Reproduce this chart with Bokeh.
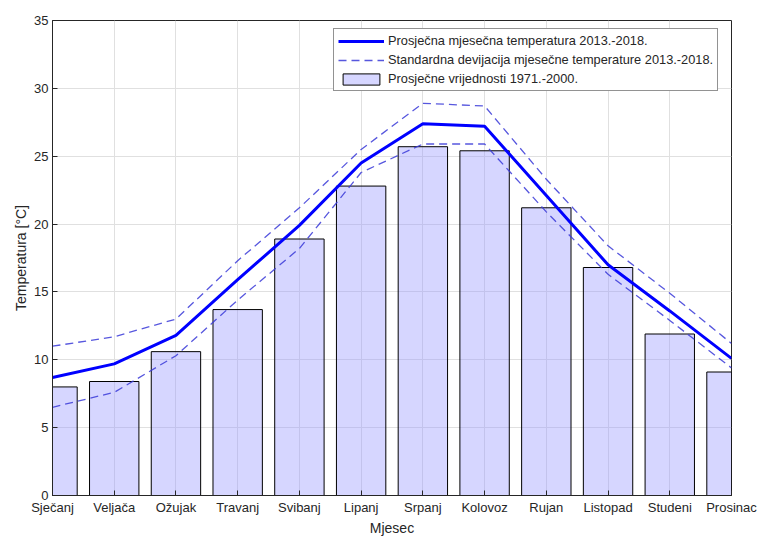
from bokeh.plotting import figure
from bokeh.models import Range1d, FixedTicker, Legend, LegendItem
from bokeh.embed import file_html
from bokeh.resources import INLINE

months = ["Sječanj", "Veljača", "Ožujak", "Travanj", "Svibanj", "Lipanj",
          "Srpanj", "Kolovoz", "Rujan", "Listopad", "Studeni", "Prosinac"]
month_num = list(range(1, 13))

avg_1971_2000 = [8.0, 8.4, 10.6, 13.7, 18.9, 22.8, 25.7, 25.4, 21.2, 16.8, 11.9, 9.1]
mean_2013_2018 = [8.7, 9.7, 11.8, 15.9, 19.9, 24.5, 27.4, 27.2, 22.1, 17.0, 13.6, 10.1]
upper_sd = [11.0, 11.7, 13.0, 17.3, 21.2, 25.5, 28.9, 28.7, 23.3, 18.4, 14.9, 11.2]
lower_sd = [6.5, 7.6, 10.3, 14.4, 18.2, 23.8, 25.9, 25.9, 20.9, 16.3, 12.9, 9.4]

y_ticks = [0, 5, 10, 15, 20, 25, 30, 35]

FONT = "Liberation Sans"
AX = "#262626"

p = figure(width=761, height=539, output_backend="svg", toolbar_location=None,
           x_range=Range1d(1, 12), y_range=Range1d(0, 35),
           min_border_left=52, min_border_right=30, min_border_top=20, min_border_bottom=44)
p.background_fill_color = "white"
p.border_fill_color = "white"
p.outline_line_color = AX
p.outline_line_width = 1

# grid
p.xgrid.ticker = FixedTicker(ticks=month_num)
p.ygrid.ticker = FixedTicker(ticks=y_ticks)
for g in (p.xgrid, p.ygrid):
    g.grid_line_color = "#e0e0e0"
    g.grid_line_width = 1

# axes
xa = p.xaxis[0]
xa.ticker = FixedTicker(ticks=month_num)
xa.major_label_overrides = {m: name for m, name in zip(month_num, months)}
xa.axis_label = "Mjesec"
ya = p.yaxis[0]
ya.ticker = FixedTicker(ticks=y_ticks)
ya.axis_label = "Temperatura [°C]"
for a in (xa, ya):
    a.axis_line_color = AX
    a.major_tick_line_color = AX
    a.major_tick_in = 5
    a.major_tick_out = 0
    a.minor_tick_line_color = None
    a.major_label_text_font = FONT
    a.major_label_text_font_size = "13px"
    a.major_label_text_color = AX
    a.axis_label_text_font = FONT
    a.axis_label_text_font_size = "14px"
    a.axis_label_text_font_style = "normal"
    a.axis_label_text_color = AX
    a.major_label_standoff = 4
    a.axis_label_standoff = 2

bars = p.vbar(x=month_num, top=avg_1971_2000, width=0.8, bottom=0,
              fill_color="#9999ff", fill_alpha=0.4, line_color="black", line_width=1)
r_mean = p.line(month_num, mean_2013_2018, line_color="#0000ff", line_width=3)
r_up = p.line(month_num, upper_sd, line_color="#3a3ad8", line_width=1.3, line_dash="8 5", line_alpha=0.85)
r_lo = p.line(month_num, lower_sd, line_color="#3a3ad8", line_width=1.3, line_dash="8 5", line_alpha=0.85)

legend = Legend(items=[
    LegendItem(label="Prosječna mjesečna temperatura 2013.-2018.", renderers=[r_mean]),
    LegendItem(label="Standardna devijacija mjesečne temperature 2013.-2018.", renderers=[r_up]),
    LegendItem(label="Prosječne vrijednosti 1971.-2000.", renderers=[bars]),
], location=(281, 404))
legend.label_text_font = FONT
legend.label_text_font_size = "12.8px"
legend.label_text_color = AX
legend.glyph_width = 46
legend.glyph_height = 14
legend.label_height = 14
legend.label_standoff = 4
legend.spacing = 4
legend.padding = 4
legend.margin = 0
legend.border_line_color = AX
legend.border_line_width = 1
legend.background_fill_color = "white"
legend.background_fill_alpha = 1
p.add_layout(legend, "center")

open("out.html", "w").write(file_html(p, INLINE))
